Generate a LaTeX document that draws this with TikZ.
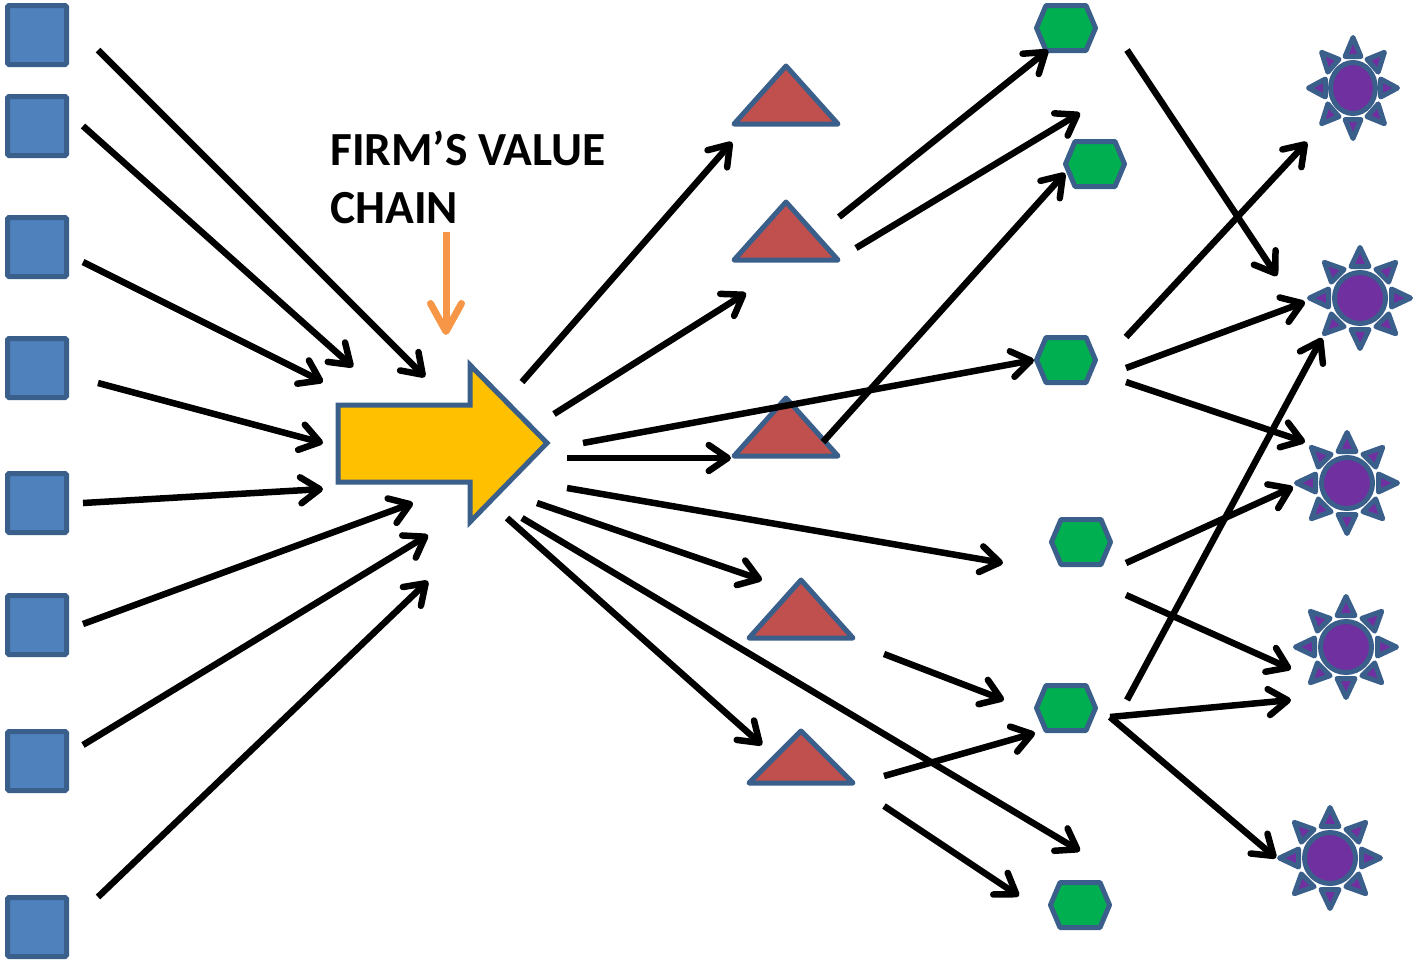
\documentclass[tikz,border=0pt]{standalone}
\usepackage{fontspec}
\setmainfont{Carlito}
\usetikzlibrary{arrows.meta}

\definecolor{boxblue}{HTML}{4F81BD}
\definecolor{edgeblue}{HTML}{3A5F8B}
\definecolor{trired}{HTML}{C0504D}
\definecolor{hexgreen}{HTML}{00B050}
\definecolor{sunpurple}{HTML}{7030A0}
\definecolor{chaingold}{HTML}{FFC000}
\definecolor{pointer}{HTML}{F79646}

\tikzset{
  arr/.style={line width=6.5pt, -{Straight Barb[length=19pt,width=26pt,round]}},
  sq/.style={draw=edgeblue, fill=boxblue, line width=5pt, rounded corners=1.5pt,
             minimum size=59pt, inner sep=0pt},
  shapeedge/.style={draw=edgeblue, line width=5pt, line join=round},
  tripic/.pic={\path[shapeedge, fill=trired] (0,-29) -- (52,29) -- (-52,29) -- cycle;},
  tripicsmall/.pic={\path[shapeedge, fill=trired] (0,-26) -- (52,26) -- (-52,26) -- cycle;},
  hexpic/.pic={\path[shapeedge, fill=hexgreen]
     (-29.5,0) -- (-20,-22.5) -- (20,-22.5) -- (29.5,0) -- (20,22.5) -- (-20,22.5) -- cycle;},
  sunpic/.pic={
     \foreach \a in {0,45,...,315}
       \path[shapeedge, line width=5pt, fill=sunpurple, rotate=\a]
         (0,-50.5) -- (9,-31.5) -- (-9,-31.5) -- cycle;
     \path[draw=edgeblue, line width=5pt, fill=sunpurple] (0,0) circle (25.5);}
}

\begin{document}
\begin{tikzpicture}[x=1pt,y=-1pt]
\useasboundingbox (0,0) rectangle (1416,962);

% suppliers on the left
\foreach \i/\y in {1/35,2/126,3/247,4/368,5/503,6/625,7/761,8/927}
  \node[sq] (sq\i) at (37,\y) {};

% the firm's value chain
\coordinate (core) at (440,443);
\path[shapeedge, line join=miter, fill=chaingold]
  (338,405) -- (470,405) -- (470,365) -- (547,443) -- (470,522) -- (470,482) -- (338,482) -- cycle;

% caption with its pointer
\node[anchor=base west, inner sep=0pt, font=\bfseries\fontsize{47.5}{58}\selectfont] (cap1) at (330,165) {FIRM’S VALUE};
\node[anchor=base west, inner sep=0pt, font=\bfseries\fontsize{47.5}{58}\selectfont] (cap2) at (330,223) {CHAIN};
\coordinate (ptrA) at (446,232);
\coordinate (ptrB) at (446,335);
\draw[draw=pointer, line width=7pt, -{Straight Barb[length=28pt,width=31pt,round]}] (ptrA) -- (ptrB);

% triangles
\foreach \n/\x/\y in {t1/786/95,t2/786/231,t3/786/427,t4/801/609}
  {\coordinate (\n) at (\x,\y); \pic at (\n) {tripic};}
\coordinate (t5) at (801,757);
\pic at (t5) {tripicsmall};

% hexagons
\foreach \n/\x/\y in {h1/1066/28,h2/1095/164,h3/1066/360,h4/1081/542,h5/1066/708,h6/1080/905}
  {\coordinate (\n) at (\x,\y); \pic at (\n) {hexpic};}

% suns
\coordinate (u1) at (1353,88);
\pic[xscale=0.88] at (u1) {sunpic};
\foreach \n/\x/\y in {u2/1360/298,u3/1347/483,u4/1346/647,u5/1330/858}
  {\coordinate (\n) at (\x,\y); \pic at (\n) {sunpic};}

% flows: start and end of every connector
\foreach \n/\ax/\ay/\bx/\by in {
  in1/98/50/425/377, in2/83/126/353/367, in3/83/262/323/382, in4/98/383/323/443,
  in5/83/503/323/489, in6/83/624/413/503, in7/83/745/428/535, in8/98/897/428/581,
  out1/522/382/732/142, out2/554/414/746/293, out3/583/443/1034/360, out4/567/458/731/458,
  out5/567/488/1003/563, out6/537/503/762/580, out7/522/518/1080/851, out8/507/518/762/745,
  tr1/839/217/1048/50, tr2/856/248/1080/113, tr3/823/442/1065/173,
  tr4/884/654/1004/700, tr5/884/776/1035/733, tr6/884/806/1019/896,
  hx1/1127/50/1277/276, hx2/1126/337/1307/142, hx3/1126/368/1305/302, hx4/1126/382/1305/442,
  hx5/1126/563/1293/487, hx6/1126/595/1291/669, hx7/1127/700/1322/338,
  hx8/1110/717/1291/700, hx9/1110/717/1276/858}
{
  \coordinate (\n a) at (\ax,\ay);
  \coordinate (\n b) at (\bx,\by);
  \draw[arr] (\n a) -- (\n b);
}
\end{tikzpicture}
\end{document}
